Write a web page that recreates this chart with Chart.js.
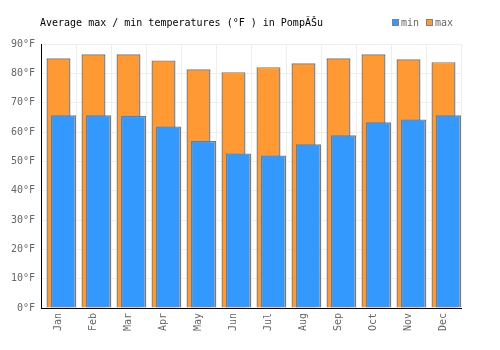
<!DOCTYPE html>
<html>
<head>
<meta charset="utf-8">
<script src="https://cdn.jsdelivr.net/npm/chart.js@4"></script>
<style>
html,body{margin:0;padding:0;background:#fff;}
#wrap{width:500px;height:350px;}
</style>
</head>
<body>
<div id="wrap"><canvas id="c" width="500" height="350"></canvas></div>
<script>
const months = ["Jan","Feb","Mar","Apr","May","Jun","Jul","Aug","Sep","Oct","Nov","Dec"];
const minTemps = [65.7, 65.7, 65.5, 61.9, 56.9, 52.7, 52.0, 55.8, 58.9, 63.3, 64.3, 65.7];
const maxTemps = [85.1, 86.5, 86.5, 84.4, 81.4, 80.4, 82.1, 83.4, 85.1, 86.5, 84.8, 83.8];
const titleText = "Average max / min temperatures (°F ) in PompĂŠu";
const seriesNames = ["min", "max"];
const seriesColors = ["#3399ff", "#ff9933"];

const FONT = "'DejaVu Sans Mono', monospace";

const shiftPlugin = {
  id: 'shift',
  beforeDatasetDraw(chart, args) {
    chart.ctx.save();
    if (args.index === 0) chart.ctx.translate(5, 0);
  },
  afterDatasetDraw(chart) {
    chart.ctx.restore();
  }
};

const headerPlugin = {
  id: 'header',
  afterDraw(chart) {
    const ctx = chart.ctx;
    ctx.save();
    ctx.font = "10px " + FONT;
    ctx.textBaseline = 'middle';
    ctx.fillStyle = '#000';
    ctx.fillText(titleText, 40, 23);
    const items = [{x: 392, name: seriesNames[0], color: seriesColors[0]},
                   {x: 426, name: seriesNames[1], color: seriesColors[1]}];
    items.forEach(it => {
      ctx.fillStyle = it.color;
      ctx.fillRect(it.x, 19, 6, 6);
      ctx.strokeStyle = '#808080';
      ctx.lineWidth = 1;
      ctx.strokeRect(it.x + 0.5, 19.5, 6, 6);
      ctx.fillStyle = '#666';
      ctx.fillText(it.name, it.x + 9, 23);
    });
    ctx.restore();
  }
};

new Chart(document.getElementById('c'), {
  type: 'bar',
  data: {
    labels: months,
    datasets: [
      {label: seriesNames[0], data: minTemps, backgroundColor: seriesColors[0], borderColor: '#7a7a7a', borderWidth: 1.4, barPercentage: 0.714, categoryPercentage: 1, grouped: false, inflateAmount: 0},
      {label: seriesNames[1], data: maxTemps, backgroundColor: seriesColors[1], borderColor: '#7a7a7a', borderWidth: 1.4, barPercentage: 0.686, categoryPercentage: 1, grouped: false, inflateAmount: 0}
    ]
  },
  options: {
    responsive: false,
    animation: false,
    devicePixelRatio: 1,
    layout: {padding: {left: 0, top: 44, right: 39, bottom: 0}},
    plugins: {legend: {display: false}, title: {display: false}, tooltip: {enabled: false}},
    scales: {
      x: {
        offset: true,
        grid: {color: '#eeeeee', offset: true, drawTicks: false},
        border: {color: '#000', width: 1},
        ticks: {color: '#666', font: {family: FONT, size: 10}, minRotation: 90, maxRotation: 90, padding: 5},
        afterFit(s) { s.height = 42; }
      },
      y: {
        min: 0, max: 90,
        grid: {color: '#eeeeee', drawTicks: false},
        border: {color: '#000', width: 1},
        ticks: {stepSize: 10, color: '#666', font: {family: FONT, size: 10}, padding: 6, callback: v => v + '°F'},
        afterFit(s) { s.width = 41; }
      }
    }
  },
  plugins: [shiftPlugin, headerPlugin]
});
</script>
</body>
</html>
